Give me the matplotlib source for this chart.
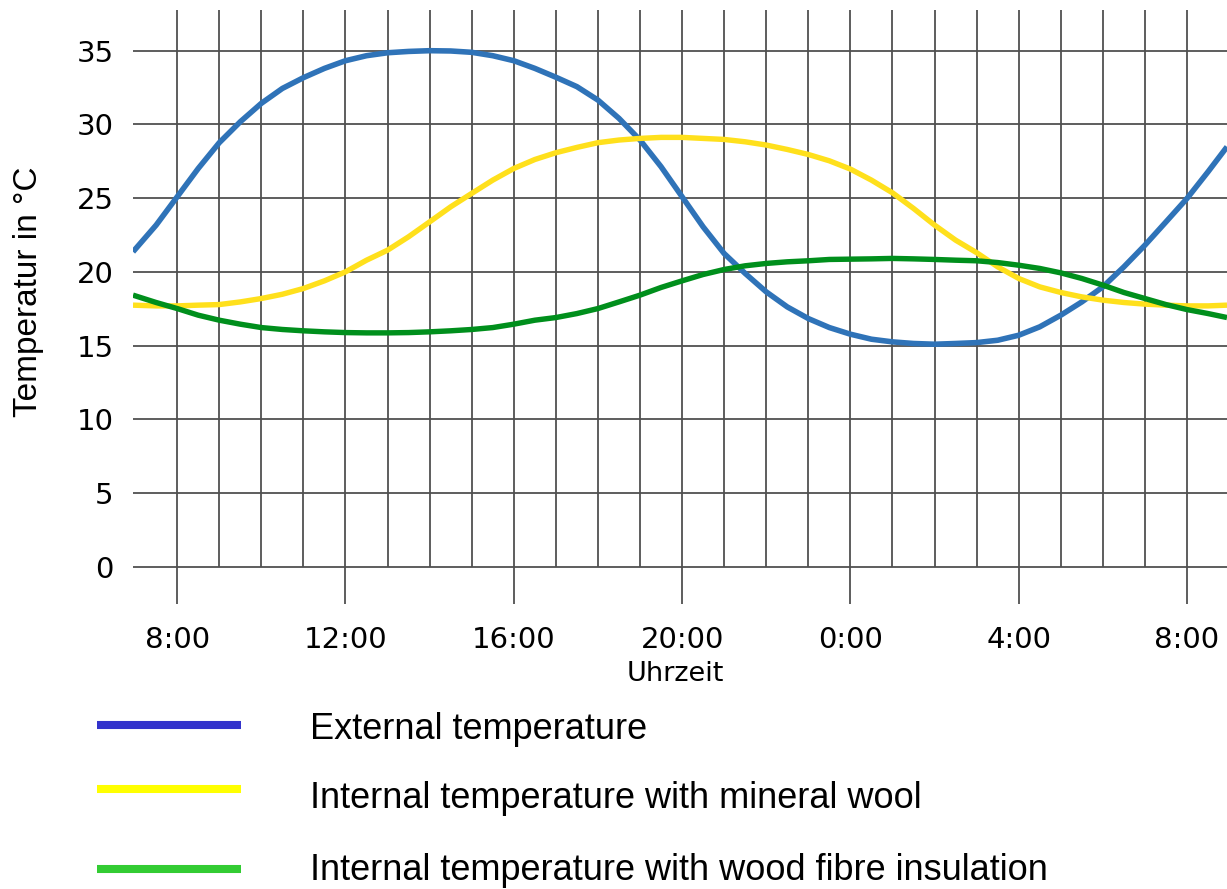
import matplotlib
matplotlib.use("Agg")
import matplotlib.pyplot as plt
from matplotlib.lines import Line2D

# ---- data (hours since midnight of day 1, read every half hour) ----
hours = [6.95, 7.5, 8, 8.5, 9, 9.5, 10, 10.5, 11, 11.5, 12, 12.5, 13, 13.5,
         14, 14.5, 15, 15.5, 16, 16.5, 17, 17.5, 18, 18.5, 19, 19.5, 20, 20.5,
         21, 21.5, 22, 22.5, 23, 23.5, 24, 24.5, 25, 25.5, 26, 26.5, 27, 27.5,
         28, 28.5, 29, 29.5, 30, 30.5, 31, 31.5, 32, 32.5, 32.95]
external = [21.36, 23.17, 25.09, 27.01, 28.76, 30.18, 31.43, 32.44, 33.17,
            33.8, 34.32, 34.66, 34.86, 34.95, 35.0, 34.98, 34.89, 34.66, 34.32,
            33.8, 33.2, 32.56, 31.65, 30.41, 28.94, 27.13, 25.09, 23.05, 21.24,
            19.89, 18.64, 17.62, 16.83, 16.22, 15.77, 15.43, 15.25, 15.14,
            15.09, 15.14, 15.2, 15.36, 15.7, 16.27, 17.06, 17.96, 18.98, 20.34,
            21.81, 23.39, 24.98, 26.79, 28.48]
mineral_wool = [17.74, 17.69, 17.69, 17.74, 17.78, 17.96, 18.19, 18.48, 18.87,
                19.39, 20.0, 20.79, 21.47, 22.38, 23.39, 24.41, 25.32, 26.22,
                27.01, 27.62, 28.08, 28.44, 28.76, 28.94, 29.05, 29.12, 29.12,
                29.05, 28.98, 28.82, 28.6, 28.3, 27.96, 27.53, 26.97, 26.22,
                25.36, 24.3, 23.17, 22.15, 21.3, 20.34, 19.55, 18.98, 18.6,
                18.3, 18.08, 17.92, 17.81, 17.74, 17.69, 17.69, 17.74]
wood_fibre = [18.42, 17.92, 17.51, 17.06, 16.72, 16.45, 16.22, 16.09, 16.0,
              15.93, 15.88, 15.86, 15.86, 15.88, 15.93, 16.0, 16.09, 16.22,
              16.45, 16.72, 16.9, 17.17, 17.51, 17.96, 18.42, 18.94, 19.39,
              19.82, 20.16, 20.41, 20.57, 20.68, 20.75, 20.84, 20.86, 20.88,
              20.91, 20.88, 20.84, 20.79, 20.75, 20.63, 20.45, 20.23, 19.93,
              19.55, 19.1, 18.6, 18.19, 17.78, 17.44, 17.17, 16.9]

xtick_pos = [8, 12, 16, 20, 24, 28, 32]
xtick_labels = ["8:00", "12:00", "16:00", "20:00", "0:00", "4:00", "8:00"]
ytick_pos = [0, 5, 10, 15, 20, 25, 30, 35]
grid_hours = list(range(8, 33))

legend_labels = ["External temperature",
                 "Internal temperature with mineral wool",
                 "Internal temperature with wood fibre insulation"]

# ---- figure ----
W, H = 1227, 889
fig = plt.figure(figsize=(W / 100, H / 100), dpi=100)
ax = fig.add_axes([133 / W, 1 - 604 / H, (W - 133) / W, 594 / H])

xmin, xmax = 6.95, 32.95
ymin, ymax = -2.53, 37.76
ax.set_xlim(xmin, xmax)
ax.set_ylim(ymin, ymax)

gcol = "#505050"
glw = 1.3
for yv in ytick_pos:
    ax.axhline(yv, color=gcol, lw=glw, zorder=1)
for h in grid_hours:
    lo = ymin if h in xtick_pos else 0
    ax.vlines(h, lo, ymax, color=gcol, lw=glw, zorder=1)

ax.plot(hours, external, color="#2f73b8", lw=4.0, solid_joinstyle="round",
        solid_capstyle="butt", zorder=3)
ax.plot(hours, mineral_wool, color="#ffe01c", lw=3.9, solid_joinstyle="round",
        solid_capstyle="butt", zorder=3)
ax.plot(hours, wood_fibre, color="#008f1c", lw=3.9, solid_joinstyle="round",
        solid_capstyle="butt", zorder=3)

for s in ax.spines.values():
    s.set_visible(False)

ax.set_xticks(xtick_pos)
ax.set_xticklabels(xtick_labels, fontsize=21, family="DejaVu Sans")
ax.set_yticks(ytick_pos)
ax.set_yticklabels([str(v) for v in ytick_pos], fontsize=21, family="DejaVu Sans")
ax.tick_params(axis="both", length=0)
ax.tick_params(axis="x", pad=16)
ax.tick_params(axis="y", pad=14)

ax.set_xlabel("Uhrzeit", fontsize=19.5, family="DejaVu Sans")
ax.xaxis.set_label_coords((675 - 133) / 1094, (604 - 661) / 594)
ax.set_ylabel("Temperatur in °C", fontsize=24, family="Liberation Sans", va="center")
ax.yaxis.set_label_coords((29 - 133) / 1094, (604 - 292) / 594)

# ---- legend (manual) ----
leg_colors = ["#3333cc", "#ffff00", "#33cc33"]
line_y = [725, 789, 869]
text_base = [739, 808, 880]
for c, ly, tb, lab in zip(leg_colors, line_y, text_base, legend_labels):
    fig.add_artist(Line2D([97 / W, 241 / W], [1 - ly / H, 1 - ly / H],
                          color=c, lw=5.8, solid_capstyle="butt"))
    fig.text(310 / W, 1 - tb / H, lab, fontsize=26, family="Liberation Sans",
             ha="left", va="baseline")

fig.savefig("out.png", dpi=100)
